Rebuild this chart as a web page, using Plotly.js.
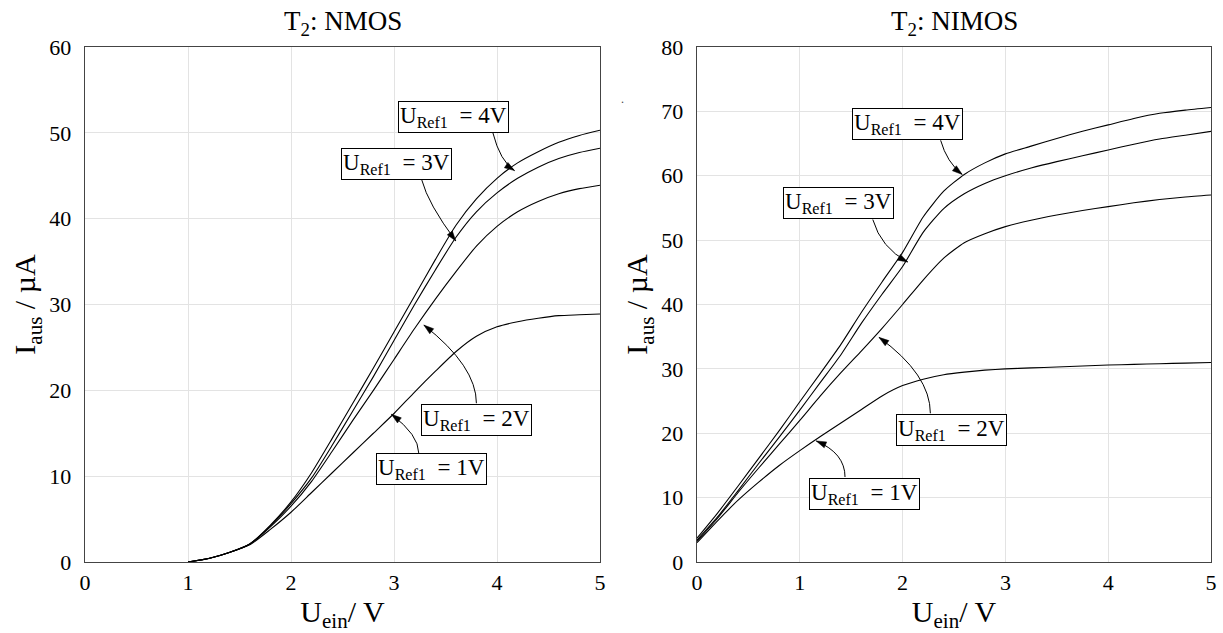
<!DOCTYPE html>
<html><head><meta charset="utf-8">
<script src="https://cdn.plot.ly/plotly-3.0.1.min.js"></script>
<style>html,body{margin:0;padding:0;background:#fff}#chart{width:1223px;height:633px}</style>
</head><body><div id="chart"></div>
<script>
// ---------------- DATA ----------------
// Left chart: T2 NMOS  (U_ein in V, I_aus in µA)
const ueinNmos   = [1.0,1.2,1.4,1.6,1.8,2.0,2.2,2.4,2.6,2.8,3.0,3.2,3.4,3.6,3.8,4.0,4.2,4.4,4.6,4.8,5.0];
const nmosRef1V  = [0,0.4,1.1,2.0,3.8,5.8,8.1,10.4,12.7,15.0,17.3,19.8,22.2,24.5,26.3,27.4,28.0,28.4,28.7,28.8,28.9];
const nmosRef2V  = [0,0.4,1.1,2.1,4.1,6.5,9.4,12.9,16.5,20.0,23.6,27.2,30.6,33.8,36.8,39.1,40.8,42.0,42.9,43.5,43.9];
const nmosRef3V  = [0,0.4,1.1,2.1,4.2,6.8,9.8,13.6,17.6,21.6,25.8,30.0,34.0,37.8,40.8,43.0,44.7,46.0,47.0,47.7,48.2];
const nmosRef4V  = [0,0.4,1.1,2.1,4.3,7.0,10.4,14.4,18.5,22.6,26.8,31.0,35.2,39.2,42.3,44.7,46.5,47.8,48.9,49.7,50.3];

// Right chart: T2 NIMOS
const ueinNimos  = [0,0.2,0.4,0.6,0.8,1.0,1.2,1.4,1.6,1.8,2.0,2.2,2.4,2.6,2.8,3.0,3.25,3.5,3.75,4.0,4.25,4.5,4.75,5.0];
const nimosRef1V = [3.0,6.4,9.6,12.4,15.0,17.3,19.5,21.6,23.7,25.8,27.4,28.4,29.1,29.5,29.8,30.0,30.15,30.3,30.45,30.6,30.7,30.8,30.9,31.0];
const nimosRef2V = [3.2,6.8,10.8,14.6,18.3,22.0,25.8,29.4,32.8,36.3,40.0,43.8,47.2,49.6,51.0,52.1,53.1,53.9,54.6,55.2,55.8,56.3,56.7,57.0];
const nimosRef3V = [3.4,7.0,11.1,15.3,19.4,23.6,27.9,32.2,37.1,41.6,45.9,51.2,54.9,57.2,58.8,60.0,61.2,62.2,63.1,64.0,64.9,65.7,66.3,66.9];
const nimosRef4V = [3.7,7.6,11.8,16.1,20.4,24.9,29.3,33.8,38.8,43.5,48.1,53.6,57.6,60.2,62.0,63.4,64.6,65.8,66.9,67.9,68.9,69.7,70.2,70.6];

// Texts and ticks
const chartTitles = ['T<sub>2</sub>: NMOS', 'T<sub>2</sub>: NIMOS'];
const refLabels   = ['1V', '2V', '3V', '4V'];
const xTickVals   = [0,1,2,3,4,5];
const yTickValsL  = [0,10,20,30,40,50,60];
const yTickValsR  = [0,10,20,30,40,50,60,70,80];
const xTitle = 'U<sub>ein</sub>/ V';
const yTitle = 'I<sub>aus</sub> / µA';

// ---------------- LAYOUT CONFIG ----------------
const W = 1223, H = 633;
const M = {l:85, r:12, t:47, b:71};
const plotW = W - M.l - M.r, plotH = H - M.t - M.b;
const domL = [0, 515/plotW];
const domR = [(697-85)/plotW, 1];
const FONT = 'Liberation Serif, Times New Roman, serif';

// label boxes (center, data coords) and curved arrows (start, control, head)
const labelCfgL = [
  {pos:[3.36,10.8], s:[3.24,12.7], c:[3.24,14.8], h:[2.975,17.2]},
  {pos:[3.80,16.6], s:[3.80,18.5], c:[3.80,22.8], h:[3.29,27.6]},
  {pos:[3.02,46.4], s:[3.27,44.5], c:[3.33,41.75], h:[3.60,37.4]},
  {pos:[3.58,51.85], s:[3.96,50.0], c:[4.03,46.7], h:[4.17,45.6]}
];
const labelCfgR = [
  {pos:[1.63,10.6], s:[1.44,13.2], c:[1.44,16.9], h:[1.16,18.8]},
  {pos:[2.48,20.5], s:[2.27,23.1], c:[2.27,29.1], h:[1.77,34.9]},
  {pos:[1.375,55.8], s:[1.71,53.2], c:[1.79,48.8], h:[2.05,46.6]},
  {pos:[2.05,68.1], s:[2.37,65.5], c:[2.43,62.1], h:[2.58,60.2]}
];

// ---------------- BUILD ----------------
const lineStyle = {color:'#000', width:1.1, shape:'spline', smoothing:0.6};
const mk = (x, y, xa, ya) => ({x, y, xaxis:xa, yaxis:ya, type:'scatter', mode:'lines',
  line:lineStyle, hoverinfo:'skip', showlegend:false});

const traces = [
  mk(ueinNmos, nmosRef1V, 'x', 'y'), mk(ueinNmos, nmosRef2V, 'x', 'y'),
  mk(ueinNmos, nmosRef3V, 'x', 'y'), mk(ueinNmos, nmosRef4V, 'x', 'y'),
  mk(ueinNimos, nimosRef1V, 'x2', 'y2'), mk(ueinNimos, nimosRef2V, 'x2', 'y2'),
  mk(ueinNimos, nimosRef3V, 'x2', 'y2'), mk(ueinNimos, nimosRef4V, 'x2', 'y2')
];

const annotations = [];
const shapes = [];
function addLabels(cfg, xr, yr, sx, sy){
  cfg.forEach((c, i) => {
    annotations.push({xref:xr, yref:yr, x:c.pos[0], y:c.pos[1], showarrow:false,
      text:'U<sub>Ref1</sub>\u00a0 = ' + refLabels[i],
      font:{family:FONT, size:23, color:'#000'},
      bgcolor:'#fff', bordercolor:'#000', borderwidth:1, borderpad:1,
      xanchor:'center', yanchor:'middle'});
    shapes.push({type:'path', xref:xr, yref:yr, layer:'above',
      path:`M ${c.s[0]},${c.s[1]} Q ${c.c[0]},${c.c[1]} ${c.h[0]},${c.h[1]}`,
      line:{color:'#000', width:1}});
    // arrowhead (filled triangle) oriented along the curve tangent at the head, built in px then mapped to data
    let ux = (c.c[0]-c.h[0])*sx, uy = (c.c[1]-c.h[1])*sy;
    const len = Math.hypot(ux, uy) || 1; ux /= len; uy /= len;
    const L = 10, Wd = 3.2;
    const bx = c.h[0]*sx + ux*L, by = c.h[1]*sy + uy*L;
    const p1 = [(bx - uy*Wd)/sx, (by + ux*Wd)/sy];
    const p2 = [(bx + uy*Wd)/sx, (by - ux*Wd)/sy];
    shapes.push({type:'path', xref:xr, yref:yr, layer:'above',
      path:`M ${c.h[0]},${c.h[1]} L ${p1[0]},${p1[1]} L ${p2[0]},${p2[1]} Z`,
      fillcolor:'#000', line:{color:'#000', width:0.5}});
  });
}
const sxL = domL[1]*plotW/5, syL = plotH/60;
const sxR = (domR[1]-domR[0])*plotW/5, syR = plotH/80;
addLabels(labelCfgL, 'x', 'y', sxL, syL);
addLabels(labelCfgR, 'x2', 'y2', sxR, syR);

// subplot titles
[[domL, chartTitles[0]], [domR, chartTitles[1]]].forEach(([d, t]) => {
  annotations.push({xref:'paper', yref:'paper', x:(d[0]+d[1])/2, y:1 + 24/plotH,
    text:t, showarrow:false, xanchor:'center', yanchor:'middle',
    font:{family:FONT, size:27, color:'#000'}});
});
// small stray dot from the original figure
annotations.push({xref:'paper', yref:'paper', x:(622-M.l)/plotW, y:(H-M.b-90)/plotH,
  text:'.', showarrow:false, font:{family:FONT, size:12, color:'#444'}});

const axisBase = {
  showgrid:true, gridcolor:'#e3e3e3', gridwidth:1, zeroline:false,
  showline:true, linecolor:'#444', linewidth:1.3, mirror:true,
  ticks:'', tickfont:{family:FONT, size:22, color:'#000'},
  fixedrange:true
};

const layout = {
  width:W, height:H, margin:M,
  paper_bgcolor:'#fff', plot_bgcolor:'#fff', showlegend:false,
  xaxis: Object.assign({}, axisBase, {domain:domL, range:[0,5], tickvals:xTickVals, ticklabelstandoff:0,
    anchor:'y', title:{text:xTitle, font:{family:FONT, size:30, color:'#000'}, standoff:12}}),
  yaxis: Object.assign({}, axisBase, {domain:[0,1], range:[0,60], tickvals:yTickValsL, ticklabelstandoff:8,
    anchor:'x', title:{text:yTitle, font:{family:FONT, size:30, color:'#000'}, standoff:4}}),
  xaxis2: Object.assign({}, axisBase, {domain:domR, range:[0,5], tickvals:xTickVals, ticklabelstandoff:0,
    anchor:'y2', title:{text:xTitle, font:{family:FONT, size:30, color:'#000'}, standoff:12}}),
  yaxis2: Object.assign({}, axisBase, {domain:[0,1], range:[0,80], tickvals:yTickValsR, ticklabelstandoff:8,
    anchor:'x2', title:{text:yTitle, font:{family:FONT, size:30, color:'#000'}, standoff:4}}),
  annotations, shapes
};

Plotly.newPlot('chart', traces, layout, {staticPlot:true, displayModeBar:false});
</script></body></html>
